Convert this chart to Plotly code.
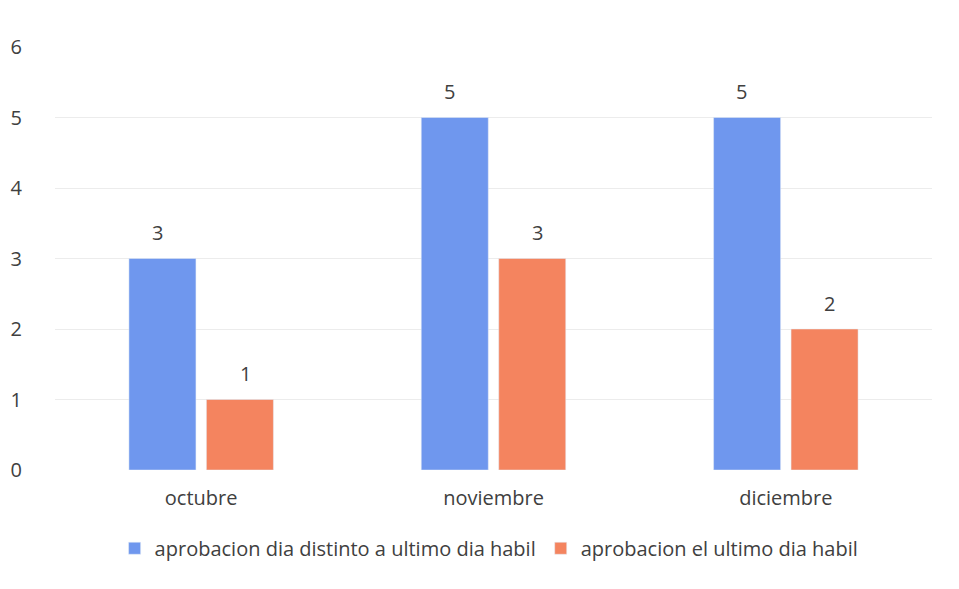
import plotly.graph_objects as go

categories = ["octubre", "noviembre", "diciembre"]
series_names = ["aprobacion dia distinto a ultimo dia habil", "aprobacion el ultimo dia habil"]
values_distinto = [3, 5, 5]
values_ultimo = [1, 3, 2]
colors = ["#6f97ee", "#f4845f"]

fig = go.Figure()
for i, (name, vals, col) in enumerate(zip(series_names, [values_distinto, values_ultimo], colors)):
    fig.add_trace(go.Bar(
        x=categories, y=vals, name=name, marker_color=col, offsetgroup=str(i),
    ))

fig.update_layout(
    width=959, height=589,
    margin=dict(l=47, r=35, t=39, b=127, autoexpand=False),
    paper_bgcolor="white", plot_bgcolor="white",
    font=dict(family="Open Sans, sans-serif", size=20, color="#404040"),
    barmode="group", bargap=0.47, bargroupgap=0.135,
    showlegend=True,
    legend=dict(orientation="h", x=0.495, xanchor="center", y=-0.185, yanchor="middle",
                font=dict(size=20, color="#404040"), itemwidth=30,
                traceorder="normal"),
)

# data labels above bars
for i, vals in enumerate([values_distinto, values_ultimo]):
    for c, v in zip(categories, vals):
        fig.add_annotation(x=c, y=v, text=str(v), showarrow=False, yshift=26,
                           xshift=(-44 if i == 0 else 44), yanchor="middle",
                           font=dict(size=20, color="#404040"))

fig.update_yaxes(range=[0, 6], dtick=1, showgrid=True, gridcolor="#ececec",
                 zeroline=False, ticks="", ticklabelstandoff=32, showline=False,
                 automargin=False)
fig.update_xaxes(showline=False, ticks="", tickfont=dict(size=20),
                 ticklabelstandoff=14, automargin=False)
fig.write_html("out.html")
